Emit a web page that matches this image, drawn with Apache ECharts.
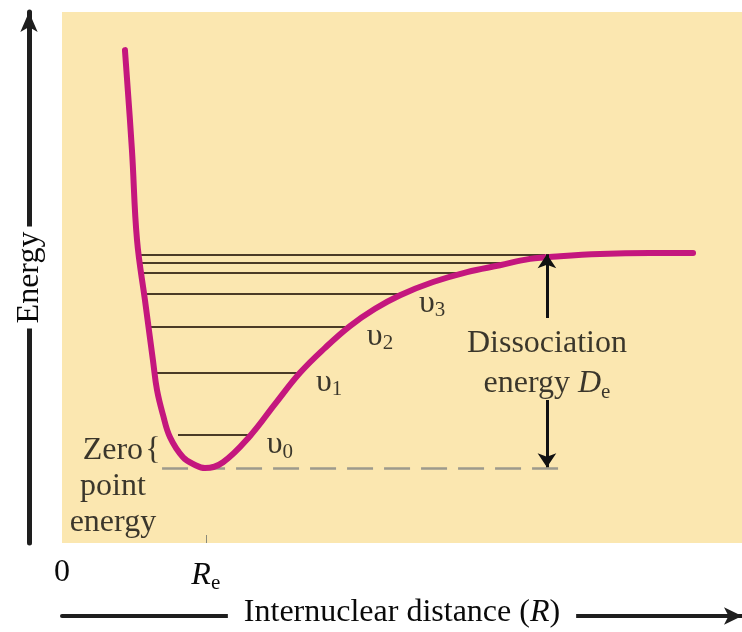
<!DOCTYPE html>
<html><head><meta charset="utf-8">
<script src="https://cdn.jsdelivr.net/npm/echarts@6/dist/echarts.min.js"></script>
<style>html,body{margin:0;padding:0;background:#fff}#c{width:742px;height:632px}</style>
</head><body><div id="c"></div>
<script>
// Potential energy curve (R in Å, E in eV)
const curveR = [0.324,0.360,0.386,0.427,0.468,0.489,0.520,0.556,0.623,0.685,0.736,0.829,0.968,1.096,1.225,1.354,1.482,1.611,1.740,1.910,2.085,2.254,2.409,2.563,2.769,3.026,3.248];
const curveE = [4.46,2.26,0.28,-1.05,-2.37,-3.03,-3.58,-4.07,-4.51,-4.68,-4.75,-4.62,-4.04,-3.34,-2.65,-2.10,-1.62,-1.24,-0.94,-0.65,-0.43,-0.28,-0.14,-0.08,-0.03,-0.01,-0.01];
// Vibrational levels
const levelE     = [-4.02,-2.65,-1.64,-0.91,-0.45,-0.23,-0.05];
const levelLeft  = [0.597,0.489,0.453,0.427,0.417,0.407,0.407];
const levelRight = [0.957,1.210,1.472,1.740,2.085,2.306,2.486];
const levelNames = ['0','1','2','3'];
// Key quantities
const Re = 0.74;
const De = 4.75;
const dissocR = 2.496;
const dashStartR = 0.515, dashEndR = 2.589;
// Axis tick labels
const tickValues = [0, Re];
const tickLabels = ['0', '{i|R}{s|e}'];

const FONT = 'Liberation Serif';
const FS = 32;
const SFS = 21;
const TXT = '#0a0a0a';
const thick = {textBorderWidth:0, textBorderColor:'transparent', textShadowBlur:0};

const chart = echarts.init(document.getElementById('c'), null, {renderer:'canvas'});

const levelLines = levelE.map((e,i)=>({coords:[[levelLeft[i],e],[levelRight[i],e]]}));
const upsilonLabels = levelNames.map((n,i)=>({
  value:[levelRight[i], levelE[i]],
  label:Object.assign({show:true, formatter:'{u|υ}{s|'+n+'}', offset:[32,10], position:'inside', color:TXT, fontFamily:FONT,
    rich:{u:Object.assign({fontFamily:FONT,fontSize:FS,color:TXT},thick),
          s:Object.assign({fontFamily:FONT,fontSize:SFS,color:TXT,verticalAlign:'bottom',padding:[14,0,0,0]},thick)}}, thick)
}));

const baseX = {type:'value', min:0, max:3.5, position:'bottom', splitLine:{show:false}};
const baseY = {type:'value', min:-6.4, max:5.3, position:'left', offset:33, splitLine:{show:false}, axisTick:{show:false}, axisLabel:{show:false}};

const option = {
  animation:false,
  backgroundColor:'#ffffff',
  textStyle:{fontFamily:FONT},
  grid:{left:62, right:0, top:12, bottom:89, show:true, backgroundColor:'#FBE7B0', borderWidth:0,
        containLabel:false, outerBoundsMode:'none'},
  xAxis:[
    Object.assign({}, baseX, {offset:0, z:3,
      axisLine:{show:false, onZero:false},
      axisTick:{show:true, customValues:[Re], inside:true, length:8, lineStyle:{color:'#8a8a7a', width:1}},
      axisLabel:Object.assign({show:true, customValues:tickValues, margin:14,
        formatter:(v)=>tickLabels[tickValues.indexOf(v)] ?? '',
        fontFamily:FONT, fontSize:FS, color:TXT,
        rich:{i:Object.assign({fontFamily:FONT,fontSize:FS,fontStyle:'italic',color:TXT},thick),
              s:Object.assign({fontFamily:FONT,fontSize:SFS,color:TXT,verticalAlign:'bottom',padding:[16,0,0,0]},thick)}}, thick)}),
    Object.assign({}, baseX, {offset:73, z:2,
      axisLine:{show:true, onZero:false, symbol:['none','arrow'], symbolSize:[13,18], lineStyle:{color:'#1e1e1e', width:4}},
      axisTick:{show:false}, axisLabel:{show:false}}),
    Object.assign({}, baseX, {offset:73, z:10,
      axisLine:{show:false, onZero:false}, axisTick:{show:false}, axisLabel:{show:false},
      name:'Internuclear distance ({i|R})', nameLocation:'middle', nameGap:-19,
      nameTextStyle:Object.assign({fontFamily:FONT, fontSize:FS, color:TXT, backgroundColor:'#ffffff', padding:[0,16],
        rich:{i:Object.assign({fontFamily:FONT,fontSize:FS,fontStyle:'italic',color:TXT},thick)}}, thick)})
  ],
  yAxis:[
    Object.assign({}, baseY, {z:2,
      axisLine:{show:true, onZero:false, symbol:['none','arrow'], symbolSize:[13,20], lineStyle:{color:'#1e1e1e', width:5}}}),
    Object.assign({}, baseY, {z:10,
      axisLine:{show:false, onZero:false},
      name:'Energy', nameLocation:'middle', nameGap:-17, nameRotate:90,
      nameTextStyle:Object.assign({fontFamily:FONT, fontSize:FS, color:TXT, backgroundColor:'#ffffff', padding:[0,5]}, thick)})
  ],
  series:[
    {type:'lines', coordinateSystem:'cartesian2d', xAxisIndex:0, yAxisIndex:0, z:2,
      lineStyle:{color:'#4a3b26', width:2, opacity:1}, data:levelLines},
    {type:'lines', coordinateSystem:'cartesian2d', xAxisIndex:0, yAxisIndex:0, z:2,
      lineStyle:{color:'#9d9a8c', width:2.5, type:[26,11], opacity:1},
      data:[{coords:[[dashStartR,-De],[dashEndR,-De]]}]},
    {type:'lines', coordinateSystem:'cartesian2d', xAxisIndex:0, yAxisIndex:0, z:4,
      symbol:['none','arrow'], symbolSize:14,
      lineStyle:{color:'#111', width:3, opacity:1},
      data:[{coords:[[dissocR,-1.44],[dissocR,-0.04]]},{coords:[[dissocR,-3.25],[dissocR,-De+0.02]]}]},
    {type:'line', xAxisIndex:0, yAxisIndex:0, z:3, showSymbol:false, smooth:0.4,
      lineStyle:{color:'#C4177E', width:6, cap:'round', join:'round'},
      data:curveR.map((r,i)=>[r,curveE[i]])},
    {type:'scatter', xAxisIndex:0, yAxisIndex:0, z:5, symbolSize:0, silent:true, itemStyle:{color:'transparent'},
      data:[
        ...upsilonLabels,
        {value:[dissocR, -De/2], label:Object.assign({show:true, position:'inside', offset:[0,3],
          formatter:'Dissociation\nenergy {i|D}{s|e}', lineHeight:40, align:'center',
          fontFamily:FONT, fontSize:FS, color:TXT,
          rich:{i:Object.assign({fontFamily:FONT,fontSize:FS,fontStyle:'italic',color:TXT,lineHeight:40},thick),
                s:Object.assign({fontFamily:FONT,fontSize:SFS,color:TXT,verticalAlign:'bottom',lineHeight:40,padding:[16,0,0,0]},thick)}}, thick)},
        {value:[0.458, (levelE[0]-De)/2], label:Object.assign({show:true, position:'inside', formatter:'{', offset:[2,-1], fontFamily:FONT, fontSize:FS, color:TXT}, thick)},
        {value:[0.262, -5.12], label:Object.assign({show:true, position:'inside', offset:[0,2], formatter:'Zero\npoint\nenergy', lineHeight:36, align:'center', fontFamily:FONT, fontSize:FS, color:TXT}, thick)}
      ]}
  ]
};
chart.setOption(option);
</script></body></html>
